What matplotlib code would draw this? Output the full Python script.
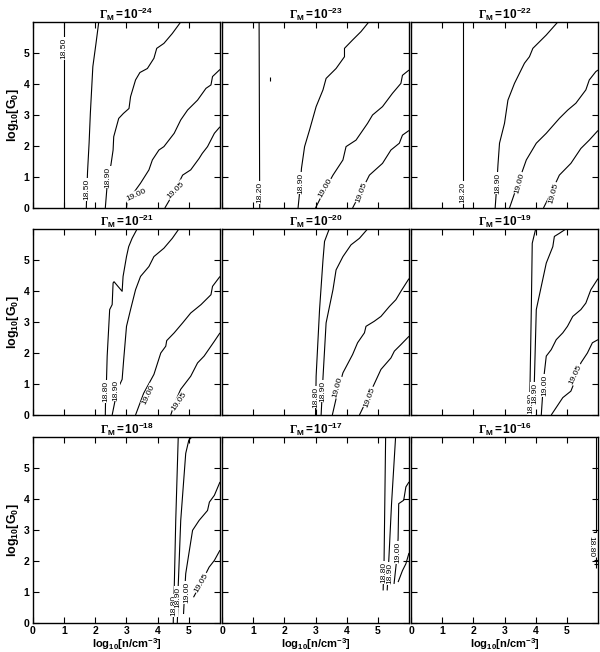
import matplotlib
matplotlib.use("Agg")
import matplotlib.pyplot as plt

plt.rcParams["font.family"] = ["Liberation Sans", "DejaVu Sans"]
plt.rcParams["mathtext.fontset"] = "custom"
plt.rcParams["mathtext.rm"] = "Liberation Serif:bold"
plt.rcParams["mathtext.sf"] = "Liberation Sans:bold"
plt.rcParams["mathtext.it"] = "Liberation Serif:italic"
plt.rcParams["mathtext.bf"] = "Liberation Sans:bold"

# exponent of Gamma_M for each panel, row by row
gamma_exp = [-24, -23, -22, -21, -20, -19, -18, -17, -16]

# contour lines: (level, log10 n values, log10 G0 values)
cont_m24 = [
    ("18.50", [1.0, 1.0], [0, 6]),
    ("18.50", [1.71, 1.73, 1.75, 1.80, 1.84, 1.92, 2.02, 2.11], [0, 0.6, 1.17, 2.1, 3.05, 4.56, 5.3, 6.0]),
    ("18.90", [2.32, 2.40, 2.50, 2.57, 2.59, 2.75, 2.90, 3.08, 3.13, 3.29, 3.43, 3.67, 3.88, 3.97, 4.20, 4.47, 4.74],
     [0, 1.0, 1.39, 1.87, 2.3, 2.89, 3.05, 3.21, 3.59, 4.13, 4.37, 4.5, 4.83, 5.15, 5.31, 5.63, 6.0]),
    ("19.00", [3.0, 3.02, 3.2, 3.45, 3.72, 3.83, 4.04, 4.20, 4.53, 4.74, 4.96, 5.28, 5.55, 5.71, 5.76, 6.0],
     [0, 0.2, 0.45, 0.8, 1.23, 1.55, 1.87, 1.98, 2.41, 2.84, 3.16, 3.48, 3.86, 3.97, 4.24, 4.47]),
    ("19.05", [4.23, 4.55, 4.8, 5.06, 5.33, 5.43, 5.6, 5.82, 6.0], [0, 0.55, 1.06, 1.23, 1.6, 1.76, 1.98, 2.41, 2.62]),
]
cont_m23 = [
    ("18.20", [1.21, 1.19], [0, 6]),
    ("18.20", [1.53, 1.53], [4.1, 4.22]),
    ("18.90", [2.44, 2.50, 2.55, 2.65, 2.81, 3.02, 3.24, 3.34, 3.66, 3.93, 3.93, 4.19, 4.46, 4.71],
     [0, 0.6, 1.28, 1.98, 2.52, 3.27, 3.81, 4.18, 4.5, 4.88, 5.15, 5.42, 5.69, 6.0]),
    ("19.00", [3.0, 3.25, 3.56, 3.88, 3.98, 4.3, 4.67, 4.83, 5.15, 5.47, 5.74, 5.79, 6.0],
     [0, 0.5, 1.06, 1.55, 1.98, 2.19, 2.73, 3.0, 3.27, 3.7, 4.02, 4.28, 4.45]),
    ("19.05", [4.19, 4.45, 4.73, 5.15, 5.42, 5.69, 5.79, 6.0], [0, 0.5, 1.06, 1.44, 1.87, 2.09, 2.35, 2.5]),
]
cont_m22 = [
    ("18.20", [1.67, 1.67], [0, 6]),
    ("18.90", [2.70, 2.75, 2.79, 2.84, 3.0, 3.11, 3.32, 3.64, 3.8, 3.91, 4.34, 4.71],
     [0, 0.7, 1.39, 2.09, 2.73, 3.48, 4.02, 4.67, 4.88, 5.15, 5.58, 6.0]),
    ("19.00", [3.16, 3.4, 3.7, 4.02, 4.34, 4.76, 5.03, 5.29, 5.61, 5.72, 5.93, 6.0],
     [0, 0.7, 1.55, 2.09, 2.41, 2.89, 3.16, 3.38, 3.81, 4.13, 4.4, 4.45]),
    ("19.05", [4.25, 4.5, 4.76, 5.13, 5.45, 5.72, 6.0], [0, 0.5, 1.06, 1.44, 1.92, 2.19, 2.5]),
]
cont_m21 = [
    ("18.80", [2.32, 2.33, 2.35, 2.38, 2.46, 2.54, 2.57, 2.60, 2.86, 2.89, 3.0, 3.07, 3.18, 3.34],
     [0, 0.6, 0.83, 1.9, 3.4, 3.56, 4.26, 4.3, 3.99, 4.47, 5.11, 5.43, 5.7, 6.0]),
    ("18.90", [2.54, 2.70, 2.86, 2.91, 3.0, 3.13, 3.29, 3.45, 3.72, 3.88, 4.2, 4.47, 4.68],
     [0, 0.8, 1.15, 1.79, 2.86, 3.4, 4.04, 4.47, 4.79, 5.11, 5.38, 5.7, 6.0]),
    ("19.00", [3.29, 3.55, 3.88, 4.1, 4.26, 4.29, 4.53, 4.8, 5.06, 5.39, 5.6, 5.71, 5.76, 6.0],
     [0, 0.7, 1.31, 2.0, 2.22, 2.4, 2.65, 2.97, 3.29, 3.56, 3.77, 3.88, 4.15, 4.47]),
    ("19.05", [4.42, 4.55, 4.74, 5.06, 5.28, 5.49, 5.82, 6.0], [0, 0.4, 0.83, 1.25, 1.68, 1.9, 2.38, 2.65]),
]
cont_m20 = [
    ("18.80", [3.0, 3.01, 3.02, 3.13, 3.24, 3.29, 3.44], [0, 0.6, 1.25, 3.4, 5.0, 5.6, 6.0]),
    ("18.90", [3.18, 3.21, 3.24, 3.34, 3.56, 3.66, 3.88, 4.14, 4.41, 4.67],
     [0, 0.6, 1.2, 2.97, 4.04, 4.68, 5.11, 5.49, 5.7, 6.0]),
    ("19.00", [3.54, 3.7, 3.88, 4.19, 4.35, 4.57, 4.62, 4.88, 5.1, 5.37, 5.58, 5.74, 6.0],
     [0, 0.7, 1.36, 1.95, 2.33, 2.65, 2.86, 3.02, 3.18, 3.5, 3.72, 3.99, 4.4]),
    ("19.05", [4.41, 4.65, 4.88, 5.1, 5.42, 5.53, 5.74, 6.0], [0, 0.5, 0.99, 1.47, 1.84, 2.06, 2.27, 2.54]),
]
cont_m19 = [
    ("18.80", [3.8, 3.81, 3.82, 3.86, 3.89, 4.0], [0, 0.5, 1.04, 3.4, 5.54, 6.0]),
    ("18.90", [3.91, 3.93, 3.96, 4.02, 4.18, 4.34, 4.55, 4.6, 4.76, 4.97],
     [0, 0.5, 1.15, 3.4, 4.15, 4.9, 5.43, 5.76, 5.86, 6.0]),
    ("19.00", [4.18, 4.22, 4.26, 4.34, 4.5, 4.66, 4.87, 5.02, 5.19, 5.45, 5.61, 5.77, 6.0],
     [0, 0.6, 1.2, 1.9, 2.11, 2.43, 2.65, 2.86, 3.18, 3.4, 3.61, 4.04, 4.4]),
    ("19.05", [4.5, 4.87, 5.13, 5.3, 5.45, 5.66, 5.82, 6.0], [0, 0.56, 0.77, 1.2, 1.68, 2.0, 2.33, 2.43]),
]
cont_m18 = [
    ("18.80", [4.5, 4.51, 4.53, 4.58, 4.66], [0, 0.5, 1.05, 3.31, 6.0]),
    ("18.90", [4.63, 4.65, 4.66, 4.74, 4.9, 5.0, 5.1], [0, 0.6, 1.21, 3.31, 5.47, 5.9, 6.0]),
    ("19.00", [4.83, 4.86, 4.9, 5.0, 5.12, 5.33, 5.6, 5.66, 5.82, 6.0],
     [0.29, 0.9, 1.59, 2.23, 2.99, 3.31, 3.63, 3.9, 4.12, 4.55]),
    ("19.05", [5.15, 5.4, 5.65, 5.82, 6.0], [0.83, 1.3, 1.8, 2.02, 2.35]),
]
cont_m17 = [
    ("18.80", [5.17, 5.2, 5.25], [1.05, 2.0, 6.0]),
    ("18.90", [5.3, 5.33, 5.36, 5.44, 5.57], [1.05, 1.6, 2.2, 3.85, 6.0]),
    ("19.00", [5.52, 5.6, 5.65, 5.67, 5.83, 5.9, 6.0], [1.26, 2.0, 2.72, 3.85, 3.96, 4.39, 4.55]),
    ("19.05", [5.65, 5.79, 5.9, 6.0], [1.32, 1.69, 1.91, 2.26]),
]
cont_m16 = [
    ("18.80", [5.85, 5.94, 5.94], [2.93, 2.93, 6.0]),
    ("18.80", [5.94, 5.94], [1.78, 2.12]),
    ("18.80", [5.88, 6.0], [2.02, 2.02]),
    ("18.80", [5.88, 6.0], [1.9, 1.9]),
]
contours = [cont_m24, cont_m23, cont_m22, cont_m21, cont_m20, cont_m19, cont_m18, cont_m17, cont_m16]

# where the level labels sit in each panel: (text, x, y, rotation)
labels = [
    [("18.50", 1.0, 5.15, 90), ("18.50", 1.73, 0.6, 90), ("18.90", 2.4, 1.0, 90),
     ("19.00", 3.3, 0.42, 25), ("19.05", 4.58, 0.58, 45)],
    [("18.20", 1.21, 0.5, 90), ("18.90", 2.52, 0.8, 90), ("19.00", 3.31, 0.63, 60), ("19.05", 4.48, 0.5, 70)],
    [("18.20", 1.67, 0.5, 90), ("18.90", 2.79, 0.8, 90), ("19.00", 3.5, 0.8, 75), ("19.05", 4.57, 0.48, 75)],
    [("18.80", 2.35, 0.76, 90), ("18.90", 2.66, 0.8, 90), ("19.00", 3.71, 0.66, 65), ("19.05", 4.68, 0.44, 55)],
    [("18.80", 3.0, 0.57, 90), ("18.90", 3.22, 0.77, 90), ("19.00", 3.72, 0.89, 75), ("19.05", 4.73, 0.57, 70)],
    [("18.80", 3.86, 0.37, 90), ("18.90", 3.96, 0.7, 90), ("19.00", 4.3, 0.95, 90), ("19.05", 5.29, 1.31, 65)],
    [("18.80", 4.53, 0.56, 90), ("18.90", 4.66, 0.82, 90), ("19.00", 4.93, 0.98, 90), ("19.05", 5.39, 1.3, 60)],
    [("18.80", 5.18, 1.63, 90), ("18.90", 5.37, 1.6, 90), ("19.00", 5.64, 2.27, 90)],
    [("18.80", 5.77, 2.45, -90)],
]

fig = plt.figure(figsize=(6, 6.52), dpi=100)
W, H = 600.0, 652.0
col_left = [33, 222, 411]
row_top = [22, 229, 437]
pw, ph = 187, 186

for i in range(9):
    r, c = divmod(i, 3)
    ax = fig.add_axes([col_left[c] / W, 1 - (row_top[r] + ph) / H, pw / W, ph / H])

    for level, xs, ys in contours[i]:
        ax.plot(xs, ys, color="black", lw=0.8, solid_capstyle="butt")
    for txt, lx, ly, rot in labels[i]:
        ax.text(lx, ly, txt, rotation=rot, ha="center", va="center", fontsize=6,
                rotation_mode="anchor",
                bbox=dict(facecolor="white", edgecolor="none", pad=0.4))

    ax.set_xlim(0, 6)
    ax.set_ylim(0, 6)
    ax.set_xticks([0, 1, 2, 3, 4, 5])
    ax.set_yticks([0, 1, 2, 3, 4, 5])
    ax.tick_params(direction="in", length=4, width=0.8, top=True, right=True,
                   labelsize=7.5, pad=2.5)
    for s in ax.spines.values():
        s.set_linewidth(1.0)

    ax.set_title(r"$\Gamma_{\mathsf{M}}\mathsf{=10^{%d}}$" % gamma_exp[i], fontsize=8.5, pad=3)

    if c == 0:
        ax.set_ylabel(r"$\mathsf{log_{10}[G_0]}$", fontsize=9, labelpad=2)
        plt.setp(ax.get_yticklabels(), fontweight="bold")
    else:
        ax.set_yticklabels([])
    if r == 2:
        ax.set_xlabel(r"$\mathsf{log_{10}[n/cm^{-3}]}$", fontsize=8, labelpad=0)
        plt.setp(ax.get_xticklabels(), fontweight="bold")
    else:
        ax.set_xticklabels([])

fig.savefig("out.png", dpi=100)
